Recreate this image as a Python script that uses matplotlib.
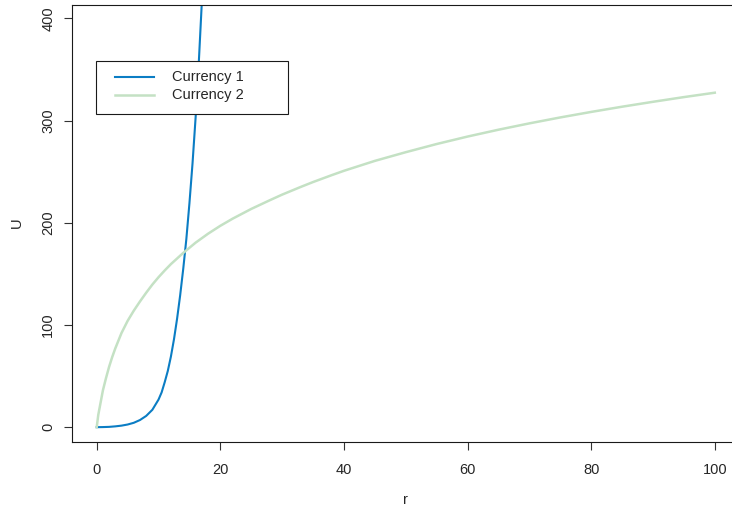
import matplotlib
matplotlib.use("Agg")
import matplotlib.pyplot as plt
from matplotlib.lines import Line2D
from matplotlib.patches import Rectangle

# Utility U as a function of r for the two currencies
r1 = [0, 1, 2, 3, 4, 5, 6, 7, 8, 9, 10, 10.5, 11, 11.5, 12, 12.5, 13, 13.5,
      14, 14.5, 15, 15.5, 16, 16.5, 17, 17.5]
u1 = [0, 0.1, 0.3, 0.8, 1.5, 2.6, 4.3, 7, 11, 17, 27, 34, 44, 55, 69, 86, 106,
      129, 155, 184, 219, 258, 303, 355, 415, 480]

r2 = [0, 0.25, 0.5, 1, 1.5, 2, 2.5, 3, 4, 5, 6, 7, 8, 9, 10, 11, 12, 14, 16,
      18, 20, 22, 25, 28, 30, 33, 35, 38, 40, 45, 50, 55, 60, 65, 70, 75, 80,
      85, 90, 95, 100]
u2 = [0, 12, 20, 36, 48, 59, 68.5, 77, 92, 104, 114, 123, 131.5, 139.5, 146.7,
      153.3, 159.5, 170.5, 180.5, 189.2, 197, 204, 213.5, 222, 227.5, 235,
      239.8, 246.5, 250.8, 260.5, 269, 277, 284.3, 291, 297.2, 303, 308.4,
      313.5, 318.3, 322.9, 327.2]

series_names = ["Currency 1", "Currency 2"]
series_colors = ["#0b7dc4", "#c4e1c4"]

x_ticks = [0, 20, 40, 60, 80, 100]
y_ticks = [0, 100, 200, 300, 400]

W, H = 732, 516
fig = plt.figure(figsize=(W / 100, H / 100), dpi=100)
plt.rcParams["font.family"] = ["Liberation Sans", "DejaVu Sans"]

txt = "#262626"
fs = 10.5

# plot region in pixels (left, right, top, bottom)
L, R, T, B = 72, 739.5, 5, 442
ax = fig.add_axes([L / W, 1 - B / H, (R - L) / W, (B - T) / H])

ax.plot(r1, u1, color=series_colors[0], lw=1.5, solid_joinstyle="round")
ax.plot(r2, u2, color=series_colors[1], lw=1.8, solid_joinstyle="round")

ax.set_xlim(-4, 104)
ax.set_ylim(-14.5, 413)
ax.set_xticks(x_ticks)
ax.set_yticks(y_ticks)
ax.set_xticklabels([str(v) for v in x_ticks])
ax.set_yticklabels([str(v) for v in y_ticks], rotation=90, va="center")

for s in ax.spines.values():
    s.set_linewidth(0.8)
    s.set_color("#1a1a1a")

ax.tick_params(axis="both", direction="out", length=6, width=0.8,
               color="#333333", labelcolor=txt, labelsize=fs)
ax.tick_params(axis="x", pad=9)
ax.tick_params(axis="y", pad=6)

fig.text(405 / W, 1 - 500 / H, "r", ha="center", va="center",
         fontsize=fs, color=txt)
fig.text(16.7 / W, 1 - 223 / H, "U", ha="center", va="center",
         rotation=90, fontsize=fs, color=txt)

# legend box with sample lines and labels
def fx(px):
    return px / W

def fy(py):
    return 1 - py / H

box = Rectangle((fx(96), fy(114)), fx(288) - fx(96), fy(61) - fy(114),
                transform=fig.transFigure, facecolor="white",
                edgecolor="#1a1a1a", linewidth=0.8, zorder=5)
fig.add_artist(box)
for name, col, ly, lw in zip(series_names, series_colors, [76.7, 95.0], [1.5, 1.8]):
    fig.add_artist(Line2D([fx(115), fx(154)], [fy(ly), fy(ly)],
                          transform=fig.transFigure, color=col, lw=lw,
                          zorder=6))
    fig.text(fx(172.5), fy(ly), name, ha="left", va="center",
             fontsize=fs, color=txt, zorder=6)

fig.savefig("out.png", dpi=100, facecolor="white")
